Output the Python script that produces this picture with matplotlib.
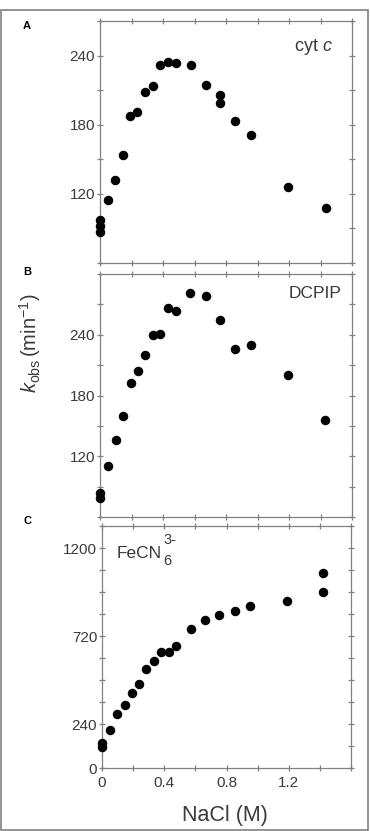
import numpy as np
import matplotlib
matplotlib.use("Agg")
import matplotlib.pyplot as plt
from matplotlib.patches import Rectangle

plt.rcParams['font.family'] = ['Liberation Sans', 'DejaVu Sans']
plt.rcParams['mathtext.fontset'] = 'custom'
plt.rcParams['mathtext.rm'] = 'Liberation Sans'
plt.rcParams['mathtext.it'] = 'Liberation Sans:italic'

# Panel A: cyt c
nacl_a = [0, 0, 0, 0.053, 0.093, 0.148, 0.193, 0.235, 0.288, 0.337, 0.384,
          0.432, 0.481, 0.576, 0.670, 0.763, 0.763, 0.860, 0.958, 1.195, 1.432]
kobs_a = [97.7, 92.5, 87.3, 114.8, 131.6, 154.1, 187.7, 191.4, 208.8, 214.0, 232.2,
          234.5, 233.9, 232.2, 214.8, 206.2, 199.2, 183.6, 170.9, 125.8, 107.5]

# Panel B: DCPIP
nacl_b = [0, 0, 0.053, 0.100, 0.144, 0.195, 0.239, 0.288, 0.337, 0.381,
          0.432, 0.481, 0.574, 0.670, 0.763, 0.860, 0.956, 1.193, 1.430]
kobs_b = [83.3, 78.3, 110.8, 135.7, 160.0, 192.5, 204.6, 220.3, 239.7, 240.7,
          266.9, 263.6, 281.0, 278.4, 254.4, 226.2, 229.8, 200.0, 156.0]

# Panel C: ferricyanide
nacl_c = [0, 0, 0.049, 0.098, 0.145, 0.193, 0.240, 0.282, 0.332, 0.379, 0.430,
          0.477, 0.569, 0.665, 0.755, 0.853, 0.950, 1.187, 1.422, 1.422]
kobs_c = [139, 114, 206, 294, 341, 408, 458, 541, 581, 635, 635,
          668, 758, 807, 836, 855, 881, 913, 962, 1063]

# Axis settings per panel
ylims = [(60, 270), (60, 300), (0, 1320)]
ytick_step = [30, 30, 120]
ytick_labels = [[120, 180, 240], [120, 180, 240], [0, 240, 720, 1200]]
xtick_labels = [0, 0.4, 0.8, 1.2]
panel_letters = ['A', 'B', 'C']

GREY = '#808080'
TXT = '#3a3a3a'
W, H = 370, 831

fig = plt.figure(figsize=(W / 100, H / 100), dpi=100)

# outer frame
fig.patches.append(Rectangle((1 / W, 1 - 830 / H), 367 / W, 820 / H,
                             transform=fig.transFigure, fill=False,
                             edgecolor=GREY, lw=1.2))

# axes boxes in pixels: left, right, top, bottom
boxes = [(100, 352, 21, 263), (100, 352, 274, 517), (102, 351, 526, 768)]
letter_y = [26, 272, 521]

data = [(nacl_a, kobs_a), (nacl_b, kobs_b), (nacl_c, kobs_c)]
axes = []
for i, (l, r, t, b) in enumerate(boxes):
    ax = fig.add_axes([l / W, 1 - b / H, (r - l) / W, (b - t) / H])
    x, y = data[i]
    ax.scatter(x, y, s=34, color='black', zorder=3, clip_on=False)
    ax.set_xlim(0, 1.6)
    ax.set_ylim(*ylims[i])

    ax.set_xticks(np.arange(0, 1.61, 0.2))
    y0, y1 = ylims[i]
    yt = np.arange(y0, y1 + 0.1, ytick_step[i])
    ax.set_yticks(yt)
    ax.set_yticklabels([str(int(v)) if int(v) in ytick_labels[i] else '' for v in yt])
    if i == 2:
        ax.set_xticklabels(['0' if v == 0 else ('%.1f' % v if round(v, 1) in xtick_labels else '')
                            for v in np.arange(0, 1.61, 0.2)])
    else:
        ax.set_xticklabels([])

    for s in ax.spines.values():
        s.set_color(GREY)
        s.set_linewidth(0.9)
    ax.tick_params(direction='inout', length=5, width=0.9, color=GREY,
                   top=True, right=True, labelsize=11, labelcolor=TXT)
    ax.tick_params(axis='y', pad=1)
    ax.tick_params(axis='x', pad=3)

    fig.text(23 / W, 1 - letter_y[i] / H, panel_letters[i], fontsize=8,
             fontweight='bold', va='center', ha='left')
    axes.append(ax)

# curve names
fig.text(333 / W, 1 - 47 / H, r'cyt $\mathit{c}$', fontsize=13, color=TXT,
         ha='right', va='center')
fig.text(342 / W, 1 - 294 / H, 'DCPIP', fontsize=12.5, color=TXT,
         ha='right', va='center')
# FeCN6 3- built from pieces so the scripts stay large
fig.text(117 / W, 1 - 553 / H, 'FeCN', fontsize=12.5, color=TXT,
         ha='left', va='center')
fig.text(163 / W, 1 - 540 / H, '3-', fontsize=10.5, color=TXT,
         ha='left', va='center')
fig.text(163 / W, 1 - 561 / H, '6', fontsize=10.5, color=TXT,
         ha='left', va='center')

# axis labels
fig.text(30 / W, 1 - 343 / H, r'$\mathit{k}_{\mathrm{obs}}\,(\mathrm{min}^{-1})$',
         fontsize=14.5, color=TXT, rotation=90, ha='center', va='center')
fig.text(225 / W, 1 - 815 / H, 'NaCl (M)', fontsize=15.5, color=TXT,
         ha='center', va='center')

fig.savefig('out.png', dpi=100)
